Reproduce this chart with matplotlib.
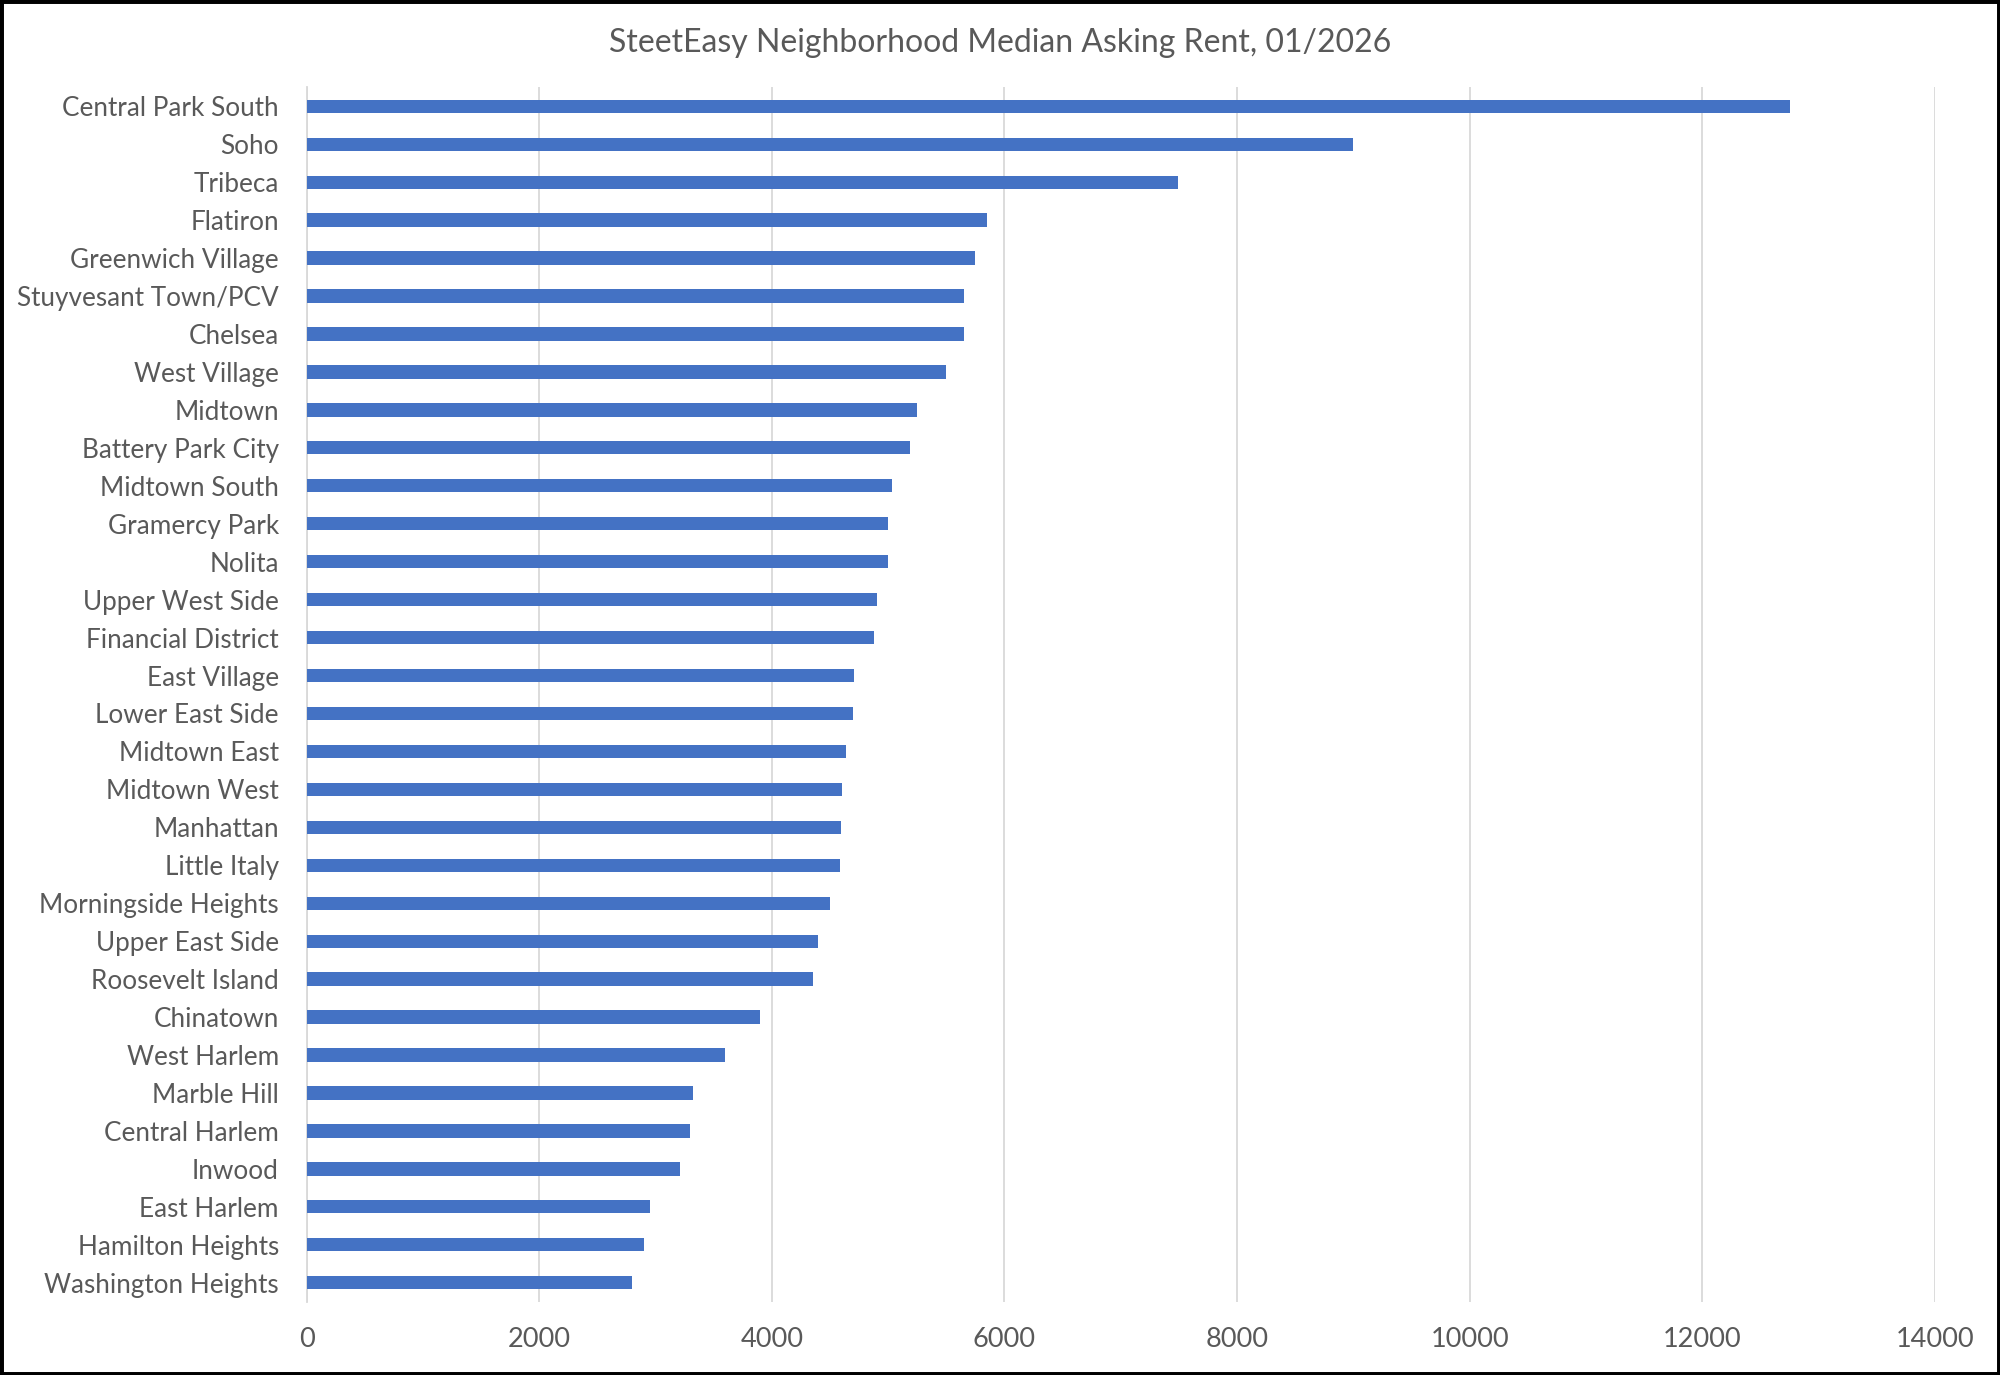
"""
StreetEasy neighborhood median asking rent, horizontal bar chart
"""

import matplotlib.pyplot as plt
from matplotlib.patches import Rectangle

TITLE = 'SteetEasy Neighborhood Median Asking Rent, 01/2026'

neighborhoods = [
    'Central Park South', 'Soho', 'Tribeca', 'Flatiron', 'Greenwich Village',
    'Stuyvesant Town/PCV', 'Chelsea', 'West Village', 'Midtown',
    'Battery Park City', 'Midtown South', 'Gramercy Park', 'Nolita',
    'Upper West Side', 'Financial District', 'East Village',
    'Lower East Side', 'Midtown East', 'Midtown West', 'Manhattan',
    'Little Italy', 'Morningside Heights', 'Upper East Side',
    'Roosevelt Island', 'Chinatown', 'West Harlem', 'Marble Hill',
    'Central Harlem', 'Inwood', 'East Harlem', 'Hamilton Heights',
    'Washington Heights',
]

median_rent = [
    12750, 9000, 7490, 5850, 5750,
    5650, 5650, 5500, 5250,
    5190, 5035, 5000, 4995,
    4900, 4875, 4710,
    4695, 4635, 4600, 4595,
    4590, 4500, 4400,
    4350, 3900, 3600, 3325,
    3300, 3210, 2950, 2900,
    2800,
]

x_ticks = [0, 2000, 4000, 6000, 8000, 10000, 12000, 14000]


def main():
    plt.rcParams['font.family'] = ['Lato', 'DejaVu Sans']
    text_color = '#595959'

    fig = plt.figure(figsize=(20, 13.75), dpi=100)
    ax = fig.add_axes([0.1533, 0.0533, 0.8142, 0.8832])

    pos = list(range(len(neighborhoods)))
    ax.barh(pos, median_rent, height=0.35, color='#4472C4', zorder=3)

    ax.set_ylim(len(neighborhoods) - 0.5, -0.5)
    ax.set_yticks(pos)
    ax.set_yticklabels(neighborhoods)
    ax.set_xlim(0, 14000)
    ax.set_xticks(x_ticks)
    ax.set_xticklabels([str(t) for t in x_ticks])

    ax.tick_params(axis='y', length=0, pad=20, labelsize=18.8,
                   labelcolor=text_color)
    ax.tick_params(axis='x', length=0, pad=18, labelsize=19.5,
                   labelcolor=text_color)

    ax.grid(axis='x', color='#d9d9d9', linewidth=1.3, zorder=0)
    for side in ['top', 'right', 'bottom']:
        ax.spines[side].set_visible(False)
    ax.spines['left'].set_color('#d9d9d9')
    ax.spines['left'].set_linewidth(1.3)

    fig.text(0.5, 0.969, TITLE, ha='center', va='center', fontsize=23,
             color=text_color)

    # black frame round the whole picture
    fig.patches.append(Rectangle((0, 0), 1, 1, transform=fig.transFigure,
                                 fill=False, edgecolor='black',
                                 linewidth=5, zorder=10))

    fig.savefig('out.png', dpi=100, facecolor='white')


if __name__ == "__main__":
    main()
